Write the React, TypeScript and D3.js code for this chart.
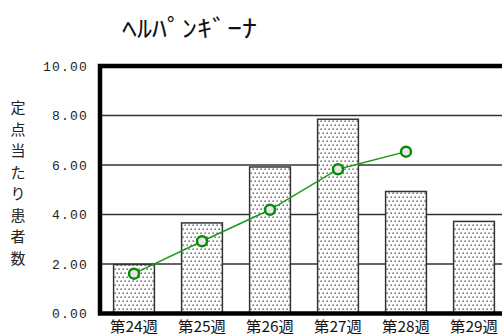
import React from "react";
import * as d3 from "d3";

const weeks = ["第24週", "第25週", "第26週", "第27週", "第28週", "第29週"];
const barValues = [1.98, 3.66, 5.92, 7.85, 4.93, 3.72];
const lineValues = [1.61, 2.92, 4.19, 5.83, 6.54];
const yTicks = [0, 2, 4, 6, 8, 10];
const title = "ﾍﾙﾊﾟﾝｷﾞｰﾅ";
const yLabel = "定点当たり患者数";

const W = 502;
const H = 336;
const margin = { top: 66, right: -6, bottom: 22.5, left: 100 };

const App: React.FC = () => {
  const x = d3
    .scaleBand<string>()
    .domain(weeks)
    .range([margin.left, W - margin.right])
    .paddingInner(0.4)
    .paddingOuter(0.2);

  const y = d3
    .scaleLinear()
    .domain([0, 10])
    .range([H - margin.bottom, margin.top]);

  const cx = (i: number) => (x(weeks[i]) ?? 0) + x.bandwidth() / 2;

  const line = d3
    .line<number>()
    .x((_d, i) => cx(i))
    .y((d) => y(d));

  const mono = "'Liberation Mono', monospace";
  const jp = "'Noto Sans CJK JP', sans-serif";

  return (
    <svg
      width={W}
      height={H}
      style={{ position: "absolute", left: 0, top: 0, background: "#fff" }}
    >
      <defs>
        <pattern id="dots" width="4" height="8" patternUnits="userSpaceOnUse">
          <rect width="4" height="8" fill="#fff" />
          <rect x="0.5" y="0.5" width="1.3" height="1.3" fill="#333" />
          <rect x="2.5" y="4.5" width="1.3" height="1.3" fill="#333" />
        </pattern>
      </defs>

      {/* タイトル */}
      <text
        x={122}
        y={37}
        fontFamily={jp}
        fontSize={24}
        textLength={135}
        lengthAdjust="spacingAndGlyphs"
        fill="#111"
      >
        {title}
      </text>

      {/* 縦軸ラベル */}
      <text fontFamily={jp} fontSize={15} fill="#222" textAnchor="middle">
        {yLabel.split("").map((c, i) => (
          <tspan key={i} x={18} y={113 + i * 21.5}>
            {c}
          </tspan>
        ))}
      </text>

      {/* グリッド */}
      {yTicks.slice(1, -1).map((t) => (
        <line
          key={t}
          x1={margin.left}
          x2={W}
          y1={y(t)}
          y2={y(t)}
          stroke="#333"
          strokeWidth={1.5}
        />
      ))}

      {/* 目盛り */}
      {yTicks.map((t) => (
        <text
          key={t}
          x={88}
          y={y(t) + 4.5}
          textAnchor="end"
          fontFamily={mono}
          fontSize={13}
          letterSpacing={1.2}
          fill="#222"
        >
          {t.toFixed(2)}
        </text>
      ))}

      {/* 棒 */}
      {barValues.map((v, i) => (
        <rect
          key={i}
          x={x(weeks[i])}
          y={y(v)}
          width={x.bandwidth()}
          height={y(0) - y(v)}
          fill="url(#dots)"
          stroke="#333"
          strokeWidth={1.5}
        />
      ))}

      {/* 枠 */}
      <path
        d={`M${W + 10},${margin.top} H${margin.left} V${y(0)} H${W + 10}`}
        fill="none"
        stroke="#000"
        strokeWidth={4.5}
      />

      {/* 折れ線 */}
      <path d={line(lineValues) ?? ""} fill="none" stroke="#1a9a1a" strokeWidth={1.5} />
      {lineValues.map((v, i) => (
        <circle
          key={i}
          cx={cx(i)}
          cy={y(v)}
          r={5}
          fill="#e8e8e8"
          stroke="#0a8a0a"
          strokeWidth={2.5}
        />
      ))}

      {/* 横軸ラベル */}
      {weeks.map((w, i) => (
        <text
          key={w}
          x={cx(i)}
          y={332}
          textAnchor="middle"
          fontFamily={jp}
          fontSize={15}
          textLength={48}
          lengthAdjust="spacingAndGlyphs"
          fill="#111"
        >
          {w}
        </text>
      ))}
    </svg>
  );
};

export default App;
